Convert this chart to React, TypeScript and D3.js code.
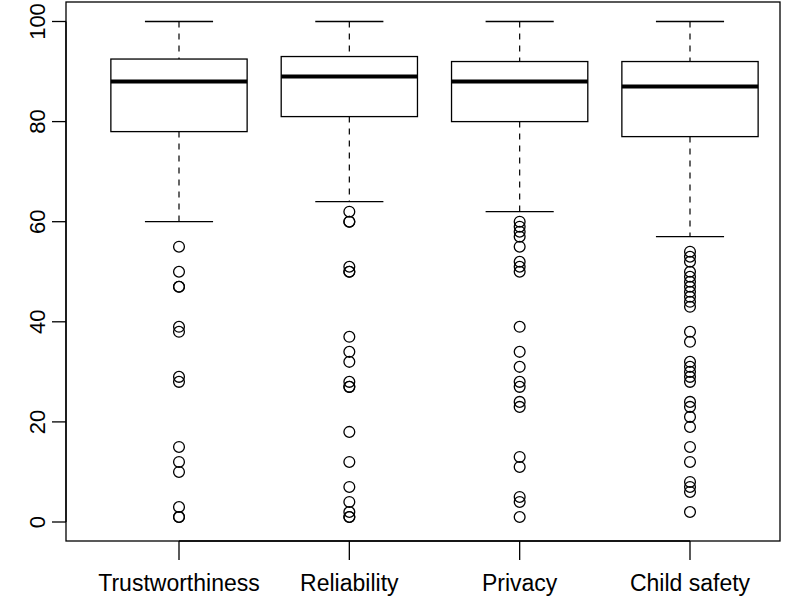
import React, { useEffect } from 'react';
import * as d3 from 'd3';

const categories = ['Trustworthiness', 'Reliability', 'Privacy', 'Child safety'];
const lowerWhisker = [60, 64, 62, 57];
const q1 = [78, 81, 80, 77];
const median = [88, 89, 88, 87];
const q3 = [92.5, 93, 92, 92];
const upperWhisker = [100, 100, 100, 100];

const trustOutliers = [55, 50, 47, 47, 39, 38, 29, 28, 15, 12, 10, 3, 1, 1];
const reliabilityOutliers = [62, 60, 60, 51, 50, 50, 37, 34, 32, 28, 27, 27, 18, 12, 7, 4, 2, 1, 1];
const privacyOutliers = [60, 59, 58, 57, 55, 52, 51, 50, 39, 34, 31, 28, 27, 24, 23, 13, 11, 5, 4, 1];
const childOutliers = [54, 53, 52, 50, 49, 48, 47, 46, 45, 44, 43, 38, 36, 32, 31, 30, 29, 28, 24, 23, 21, 19, 15, 12, 8, 7, 6, 2];
const outliers = [trustOutliers, reliabilityOutliers, privacyOutliers, childOutliers];

const yTicks = [0, 20, 40, 60, 80, 100];

const W = 794;
const H = 603;
const frame = { left: 66, right: 780, top: 2, bottom: 541 };
const font = '"Liberation Sans", Arial, Helvetica, sans-serif';

export default function App() {
  useEffect(() => {
    document.body.style.margin = '0';
  }, []);

  const x = d3.scaleLinear().domain([1, 4]).range([179, 690]);
  const y = d3.scaleLinear().domain([0, 100]).range([522, 21.5]);
  const unit = x(2) - x(1);
  const boxHalf = unit * 0.4;
  const capHalf = unit * 0.2;
  const stroke = '#000';

  return (
    <svg width={W} height={H} style={{ display: 'block', background: '#fff' }}>
      <rect
        x={frame.left}
        y={frame.top}
        width={frame.right - frame.left}
        height={frame.bottom - frame.top}
        fill="none"
        stroke={stroke}
        strokeWidth={1.3}
      />

      {categories.map((c, i) => {
        const cx = x(i + 1);
        return (
          <g key={c}>
            {/* whiskers */}
            <line x1={cx} x2={cx} y1={y(upperWhisker[i])} y2={y(q3[i])} stroke={stroke} strokeWidth={1.2} strokeDasharray="6,6" />
            <line x1={cx} x2={cx} y1={y(q1[i])} y2={y(lowerWhisker[i])} stroke={stroke} strokeWidth={1.2} strokeDasharray="6,6" />
            <line x1={cx - capHalf} x2={cx + capHalf} y1={y(upperWhisker[i])} y2={y(upperWhisker[i])} stroke={stroke} strokeWidth={1.3} />
            <line x1={cx - capHalf} x2={cx + capHalf} y1={y(lowerWhisker[i])} y2={y(lowerWhisker[i])} stroke={stroke} strokeWidth={1.3} />
            {/* box */}
            <rect
              x={cx - boxHalf}
              y={y(q3[i])}
              width={boxHalf * 2}
              height={y(q1[i]) - y(q3[i])}
              fill="#fff"
              stroke={stroke}
              strokeWidth={1.3}
            />
            <line x1={cx - boxHalf} x2={cx + boxHalf} y1={y(median[i])} y2={y(median[i])} stroke={stroke} strokeWidth={4} />
            {outliers[i].map((v, j) => (
              <circle key={j} cx={cx} cy={y(v)} r={5.4} fill="none" stroke={stroke} strokeWidth={1.3} />
            ))}
          </g>
        );
      })}

      {/* y axis */}
      <line x1={frame.left} x2={frame.left} y1={y(0)} y2={y(100)} stroke={stroke} strokeWidth={1.3} />
      {yTicks.map(t => (
        <g key={t}>
          <line x1={frame.left - 14} x2={frame.left} y1={y(t)} y2={y(t)} stroke={stroke} strokeWidth={1.3} />
          <text
            transform={`translate(${frame.left - 21},${y(t)}) rotate(-90)`}
            textAnchor="middle"
            fontFamily={font}
            fontSize={22}
            fill="#000"
          >
            {t}
          </text>
        </g>
      ))}

      {/* x axis */}
      <line x1={x(1)} x2={x(4)} y1={frame.bottom} y2={frame.bottom} stroke={stroke} strokeWidth={1.3} />
      {categories.map((c, i) => (
        <g key={c}>
          <line x1={x(i + 1)} x2={x(i + 1)} y1={frame.bottom} y2={frame.bottom + 19} stroke={stroke} strokeWidth={1.3} />
          <text x={x(i + 1)} y={591} textAnchor="middle" fontFamily={font} fontSize={23} fill="#000">
            {c}
          </text>
        </g>
      ))}
    </svg>
  );
}
